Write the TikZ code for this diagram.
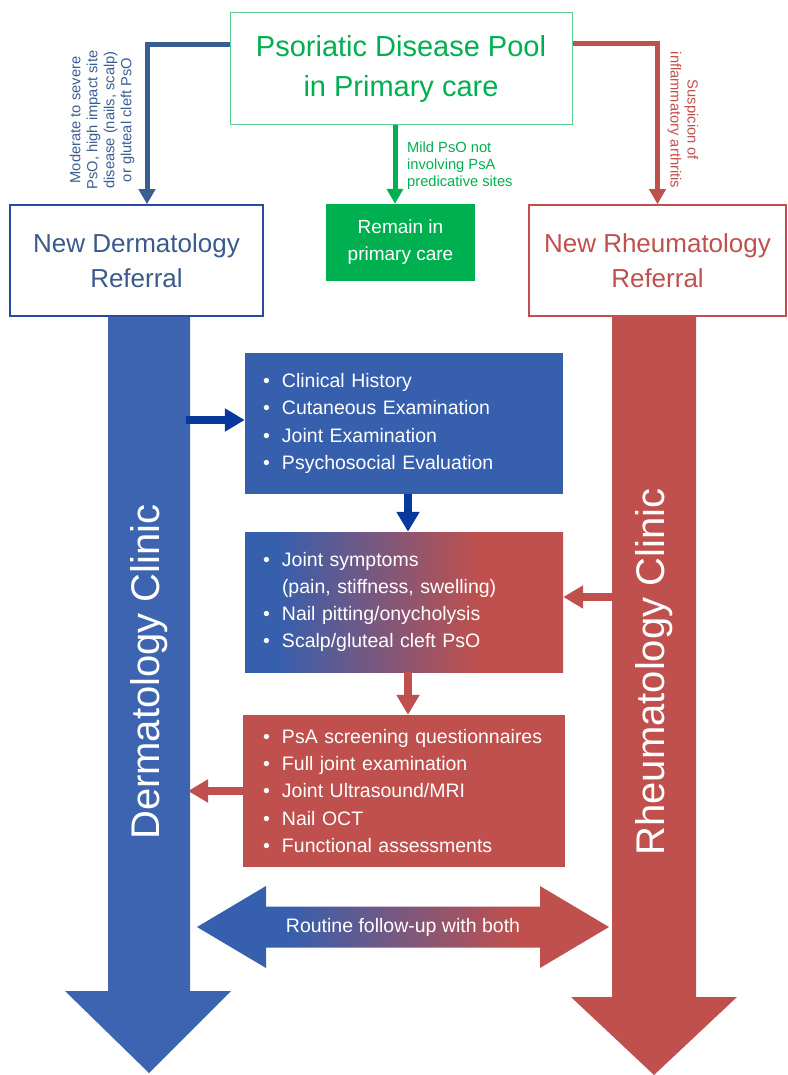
\documentclass[tikz,border=0pt]{standalone}
\usepackage{fontspec}
\setmainfont{Liberation Sans}
\usetikzlibrary{arrows.meta}
\definecolor{poolgreen}{RGB}{0,176,80}
\definecolor{poolframe}{RGB}{90,205,140}
\definecolor{dermtext}{RGB}{59,90,140}
\definecolor{dermframe}{RGB}{40,75,160}
\definecolor{dermline}{RGB}{58,94,146}
\definecolor{dermfill}{RGB}{61,100,177}
\definecolor{boxblue}{RGB}{54,95,174}
\definecolor{darkblue}{RGB}{8,56,156}
\definecolor{rheumred}{RGB}{192,80,77}
\pgfdeclarehorizontalshading{midshade}{100bp}{color(0bp)=(boxblue); color(30bp)=(boxblue); color(62bp)=(rheumred); color(100bp)=(rheumred)}
\pgfdeclarehorizontalshading{bothshade}{100bp}{color(0bp)=(boxblue); color(36bp)=(boxblue); color(64bp)=(rheumred); color(100bp)=(rheumred)}
\newcommand{\fs}[2]{\fontsize{#1}{#2}\selectfont}
\newcommand{\itm}{\makebox[19pt][l]{\textbullet}}
\begin{document}
\begin{tikzpicture}[x=1pt,y=-1pt,
frame/.style={draw,line width=1.5pt,align=center,inner sep=0pt},
box/.style={text=white,align=left,inner ysep=0pt,inner xsep=18pt,text width=282pt,minimum width=318pt,font=\fs{19.5}{27.3}},
thinarrow/.style={line width=5pt,-{Triangle[length=15pt,width=16pt]}},
thickarrow/.style={line width=8pt,-{Triangle[length=20pt,width=22pt]}},
note/.style={font=\fs{14.7}{17},align=center,inner sep=0pt}]
\useasboundingbox (0,0) rectangle (787,1075);
\fill[dermfill](108,316)--(190,316)--(190,991)--(231,991)--(149,1073)--(65,991)--(108,991)--cycle;
\fill[rheumred](612,316)--(696,316)--(696,997)--(737,997)--(654,1075)--(571,997)--(612,997)--cycle;
\node[rotate=90,text=white,font=\fs{40}{40}](dclin)at(149,672){Dermatology Clinic};
\node[rotate=90,text=white,font=\fs{40}{40}](rclin)at(654,672){Rheumatology Clinic};
\node[frame,line width=1pt,draw=poolframe,text=poolgreen,font=\fs{29}{40},minimum width=342pt,minimum height=112pt](pool)at(401,69){Psoriatic Disease Pool\\in Primary care};
\node[fill=poolgreen,text=white,font=\fs{19}{27},align=center,minimum width=149pt,minimum height=77pt](remain)at(400.5,242.5){Remain in\\primary care};
\node[frame,draw=dermframe,text=dermtext,font=\fs{26}{34.5},minimum width=253pt,minimum height=111pt](dref)at(136.5,260.5){New Dermatology\\Referral};
\node[frame,draw=rheumred,text=rheumred,font=\fs{26}{34.5},minimum width=257pt,minimum height=111pt](rref)at(657.5,260.5){New Rheumatology\\Referral};
\draw[thinarrow,dermline]([yshift=-32pt]pool.north west)-|([xshift=10.5pt]dref.north);
\draw[thinarrow,rheumred]([yshift=-31pt]pool.north east)-|(rref.north);
\draw[thinarrow,poolgreen]([xshift=-6pt]pool.south)--([xshift=-5.5pt]remain.north);
\node[note,text=dermline,rotate=90](dnote)at(102,120){Moderate to severe\\PsO, high impact site\\disease (nails, scalp)\\or gluteal cleft PsO};
\node[note,text=rheumred,rotate=-90](rnote)at(683,120){Suspicion of\\inflammatory arthritis};
\node[note,text=poolgreen,align=left,anchor=west](gnote)at(407,166){Mild PsO not\\involving PsA\\predicative sites};
\node[box,fill=boxblue,minimum height=141pt](hist)at(404,423.5){\itm Clinical History\\\itm Cutaneous Examination\\\itm Joint Examination\\\itm Psychosocial Evaluation};
\node[box,shade,shading=midshade,minimum height=140pt](sympt)at(404,602){\itm Joint symptoms\\\hspace*{19pt}(pain, stiffness, swelling)\\\itm Nail pitting/onycholysis\\\itm Scalp/gluteal cleft PsO};
\node[box,fill=rheumred,inner xsep=20pt,minimum width=322pt,minimum height=152pt](assess)at(404,791){\itm PsA screening questionnaires\\\itm Full joint examination\\\itm Joint Ultrasound/MRI\\\itm Nail OCT\\\itm Functional assessments};
\coordinate(dshaft)at(186,420);
\coordinate(rshaft)at(616,597);
\coordinate(dedge)at(188,791);
\draw[thickarrow,darkblue](dshaft)--(dshaft-|hist.west);
\draw[thickarrow,darkblue]([xshift=4pt]hist.south)--([xshift=4pt]sympt.north);
\draw[thickarrow,rheumred](rshaft)--(rshaft-|sympt.east);
\draw[thickarrow,rheumred]([xshift=4pt]sympt.south)--([xshift=4pt]assess.north);
\draw[thickarrow,rheumred](assess.west)--(dedge);
\shade[shading=bothshade](197,927)--(266,886)--(266,906.5)--(540,906.5)--(540,886)--(609,927)--(540,968)--(540,947.5)--(266,947.5)--(266,968)--cycle;
\node[text=white,font=\fs{19.5}{20}](both)at(403,927){Routine follow-up with both};
\end{tikzpicture}
\end{document}
